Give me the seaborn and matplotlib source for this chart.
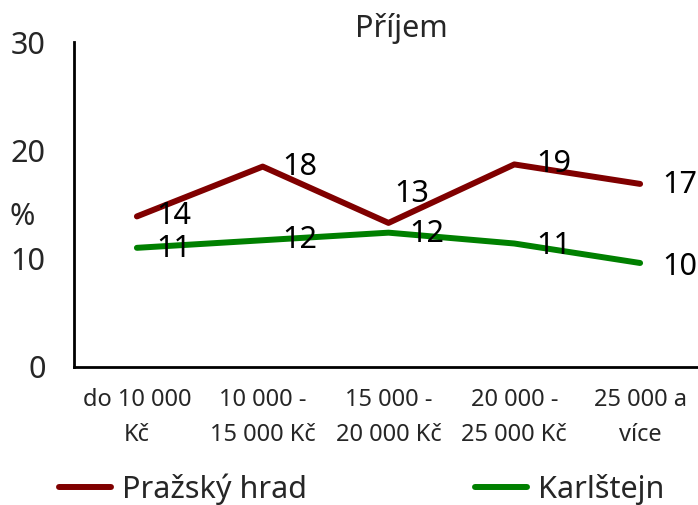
import matplotlib
matplotlib.use("Agg")
import matplotlib.pyplot as plt
import seaborn as sns
import pandas as pd
from matplotlib.lines import Line2D

categories = ["do 10 000\nKč", "10 000 -\n15 000 Kč", "15 000 -\n20 000 Kč",
              "20 000 -\n25 000 Kč", "25 000 a\nvíce"]
praha = [13.9, 18.5, 13.3, 18.7, 16.9]
karlstejn = [11.0, 11.7, 12.4, 11.4, 9.6]
series_names = ["Pražský hrad", "Karlštejn"]
colors = ["#800000", "#008000"]
y_ticks = [0, 10, 20, 30]
title = "Příjem"
y_label = "%"

# label placement (offset points) per series/point
label_offsets = {
    0: [(14, 0), (14, 0), (4, 21), (16, 0), (16, -1)],
    1: [(14, -1), (14, 0), (15, -1), (16, -2), (16, -3)],
}

df = pd.DataFrame({
    "pos": list(range(len(categories))) * 2,
    "value": praha + karlstejn,
    "series": [series_names[0]] * len(praha) + [series_names[1]] * len(karlstejn),
})

sns.set_theme(style="white")
plt.rcParams["font.family"] = ["Noto Sans", "DejaVu Sans"]

fig = plt.figure(figsize=(6.98, 5.05), dpi=100)
ax = fig.add_axes([74 / 698, (505 - 367) / 505, (703 - 74) / 698, (367 - 42) / 505])

sns.lineplot(data=df, x="pos", y="value", hue="series", palette=colors,
             hue_order=series_names, linewidth=4.3, sort=False, ax=ax, legend=False)

for si, vals in enumerate((praha, karlstejn)):
    for i, v in enumerate(vals):
        ax.annotate(f"{v:.0f}", (i, v), xytext=label_offsets[si][i],
                    textcoords="offset points", ha="left", va="center",
                    fontsize=22, color="black")

ax.set_xlim(-0.5, len(categories) - 0.5)
ax.set_ylim(0, 30)
ax.set_yticks(y_ticks)
ax.set_yticklabels([str(t) for t in y_ticks], fontsize=22)
ax.set_xticks(range(len(categories)))
ax.set_xticklabels(categories, fontsize=17, linespacing=1.6)
ax.set_xticks([i - 0.5 for i in range(len(categories))], minor=True)
ax.tick_params(axis="x", which="major", length=0, pad=15)
ax.tick_params(axis="x", which="minor", length=8, width=2, color="black", direction="out")
ax.tick_params(axis="y", length=10, width=2, color="black", direction="out", pad=10.5)
ax.set_xlabel("")
ax.set_ylabel(y_label, fontsize=22, rotation=0)
ax.yaxis.label.set_va("center")
ax.yaxis.label.set_ha("center")
ax.yaxis.set_label_coords((22 - 74) / 629, (367 - 217) / 325)
for s in ["top", "right"]:
    ax.spines[s].set_visible(False)
for s in ["left", "bottom"]:
    ax.spines[s].set_color("black")
    ax.spines[s].set_linewidth(2)
ax.set_facecolor("white")

fig.text(401 / 698, 1 - 28 / 505, title, ha="center", va="center", fontsize=22)

handles = [Line2D([0], [0], color=c, linewidth=4.3) for c in colors]
fig.legend(handles, series_names, loc="center", bbox_to_anchor=(0.518, 1 - 489 / 505),
           ncol=2, frameon=False, fontsize=22, handlelength=1.7, handletextpad=0.35,
           columnspacing=5.5, borderaxespad=0)

fig.savefig("out.png", dpi=100, facecolor="white")
